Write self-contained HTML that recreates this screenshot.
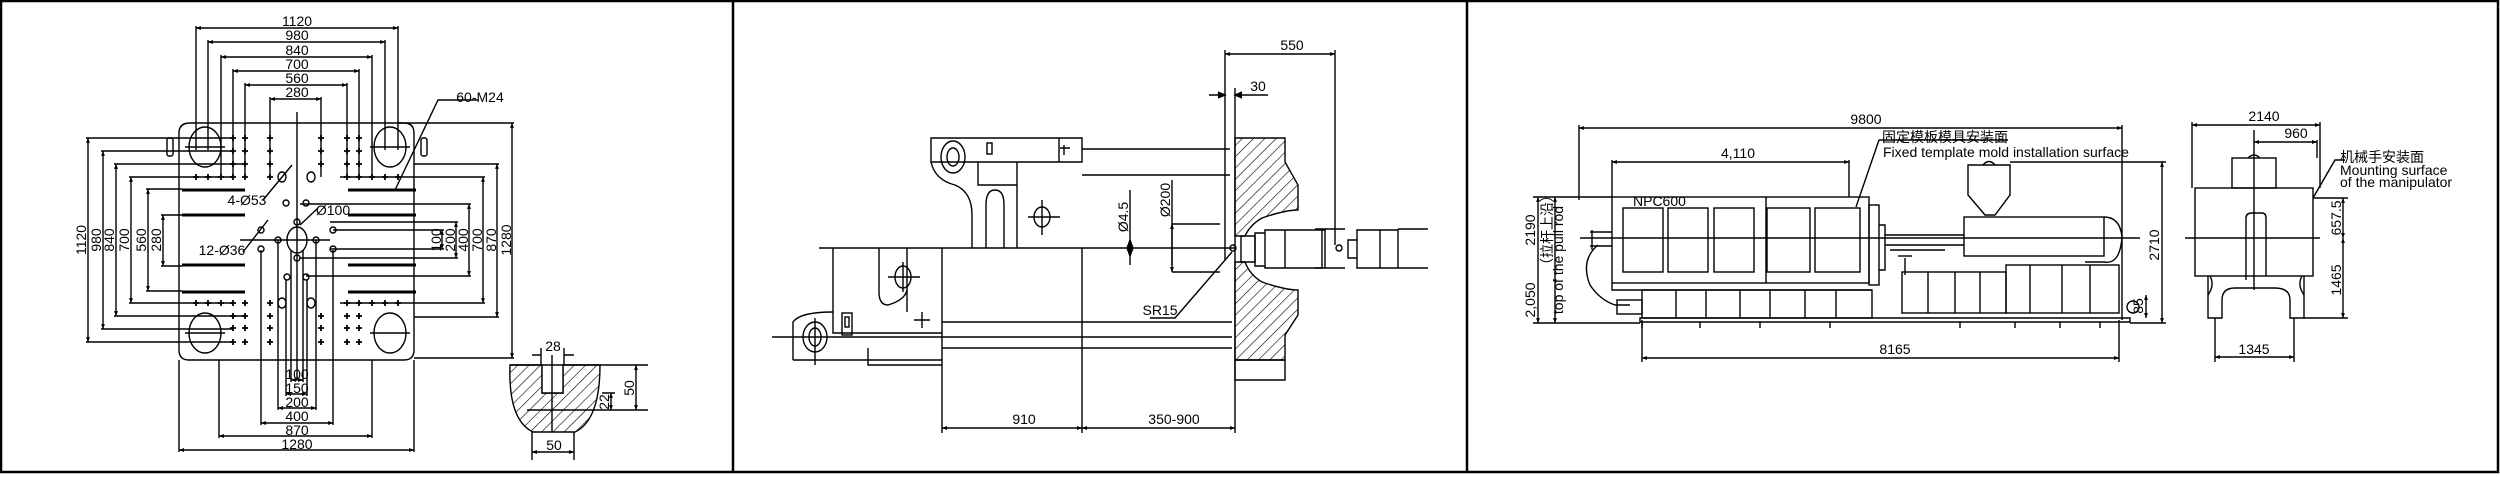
<!DOCTYPE html>
<html><head><meta charset="utf-8"><style>
html,body{margin:0;padding:0;background:#fff;}
svg{display:block;}
text{font-family:"Liberation Sans","Noto Sans CJK SC",sans-serif;font-size:14px;fill:#000;}
</style></head><body>
<svg width="2500" height="477" viewBox="0 0 2500 477" xmlns="http://www.w3.org/2000/svg">
<defs>
<marker id="a" viewBox="0 0 10 10" refX="10" refY="5" markerWidth="5" markerHeight="3.5" orient="auto-start-reverse"><path d="M0,1 L10,5 L0,9z" fill="#000"/></marker>
<g id="p"><path d="M-3,0H3M0,-3V3" stroke="#000" stroke-width="1.8"/></g>
<pattern id="h" width="8" height="8" patternUnits="userSpaceOnUse" patternTransform="rotate(45)"><line x1="0" y1="0" x2="0" y2="8" stroke="#000" stroke-width="1.2"/></pattern>
</defs>
<rect x="0" y="0" width="2500" height="477" fill="#fff"/>
<rect x="1" y="1" width="2497" height="471" fill="none" stroke="#000" stroke-width="2.5"/>
<line x1="733" y1="0" x2="733" y2="472" stroke="#000" stroke-width="2.5"/>
<line x1="1467" y1="0" x2="1467" y2="472" stroke="#000" stroke-width="2.5"/>

<!-- PANEL 1 -->
<g stroke="#000" fill="none" stroke-width="1.4">
<path d="M190,123H404Q414,123 414,133V350Q414,360 404,360H189Q179,360 179,350V133Q179,123 190,123Z"/>
<ellipse cx="205" cy="147" rx="16" ry="20"/><ellipse cx="390" cy="147" rx="16" ry="20"/>
<ellipse cx="205" cy="333" rx="16" ry="20"/><ellipse cx="390" cy="333" rx="16" ry="20"/>
<rect x="167" y="138" width="6" height="18" rx="2"/><rect x="421" y="138" width="6" height="18" rx="2"/>
<ellipse cx="297" cy="240" rx="10" ry="13"/>
<g stroke-width="3">
<path d="M182,190H245M182,215H245M182,265H245M182,292H245M348,190H416M348,215H416M348,265H416M348,292H416"/>
</g>
<g>
<circle cx="286" cy="203" r="3"/><circle cx="306" cy="203" r="3"/><circle cx="297" cy="222" r="3"/>
<circle cx="278" cy="240" r="3"/><circle cx="316" cy="240" r="3"/><circle cx="261" cy="230" r="3"/>
<circle cx="333" cy="230" r="3"/><circle cx="261" cy="249" r="3"/><circle cx="333" cy="249" r="3"/>
<circle cx="297" cy="258" r="3"/><circle cx="287" cy="277" r="3"/><circle cx="306" cy="277" r="3"/>
<ellipse cx="282" cy="177" rx="4" ry="5"/><ellipse cx="311" cy="177" rx="4" ry="5"/>
<ellipse cx="282" cy="303" rx="4" ry="5"/><ellipse cx="311" cy="303" rx="4" ry="5"/>
</g>
<path d="M297,112V380M185,147H225M370,147H410M185,333H225M370,333H410M240,240H330"/>
<g marker-start="url(#a)" marker-end="url(#a)">
<line x1="196" y1="28" x2="398" y2="28"/><line x1="208" y1="42" x2="385" y2="42"/>
<line x1="221" y1="57" x2="372" y2="57"/><line x1="233" y1="71" x2="359" y2="71"/>
<line x1="245" y1="85" x2="347" y2="85"/><line x1="270" y1="99" x2="321" y2="99"/>
<line x1="88" y1="138" x2="88" y2="342"/><line x1="103" y1="151" x2="103" y2="329"/>
<line x1="116" y1="164" x2="116" y2="316"/><line x1="131" y1="177" x2="131" y2="303"/>
<line x1="148" y1="189" x2="148" y2="291"/><line x1="163" y1="215" x2="163" y2="266"/>
<line x1="512" y1="123" x2="512" y2="358"/><line x1="497" y1="164" x2="497" y2="317"/>
<line x1="483" y1="177" x2="483" y2="303"/><line x1="469" y1="204" x2="469" y2="276"/>
<line x1="456" y1="222" x2="456" y2="258"/><line x1="442" y1="230" x2="442" y2="249"/>
<line x1="179" y1="450" x2="414" y2="450"/><line x1="219" y1="436" x2="372" y2="436"/>
<line x1="261" y1="423" x2="333" y2="423"/><line x1="278" y1="408" x2="316" y2="408"/>
<line x1="286" y1="394" x2="307" y2="394"/><line x1="291" y1="380" x2="303" y2="380"/>
</g>
<path d="M196,26V150M398,26V150M208,40V150M385,40V150M221,55V177M372,55V177M233,69V177M359,69V177M245,83V177M347,83V177M270,97V177M321,97V177"/>
<path d="M86,138H233M101,151H233M114,164H245M129,177H233M146,189H182M161,215H182M86,342H233M101,329H233M114,316H245M129,303H233M146,291H182M161,266H182"/>
<path d="M398,123H514M414,164H499M340,177H485M300,204H471M330,222H458M333,230H444M330,249H444M300,258H458M306,276H471M340,303H485M414,317H499M414,358H514"/>
<path d="M179,360V452M414,360V452M219,360V438M372,360V438M261,250V425M333,250V425M278,240V410M316,240V410M286,280V396M307,280V396M291,250V382M303,250V382"/>
<path d="M395,190L438,100H478M263,200L292,165M300,225L318,208M243,252L268,220"/>
<path d="M510,365H542V393H563V365H600Q600,420 575,432H533Q508,420 510,365Z" fill="url(#h)"/>
<path d="M542,365V393H563V365" fill="#fff"/>
<path d="M541,348V365M564,348V365M510,365H648M527,410H648M602,393H615M552,355V432" />
<g marker-start="url(#a)" marker-end="url(#a)">
<line x1="636" y1="365" x2="636" y2="410"/><line x1="611" y1="393" x2="611" y2="410"/>
<line x1="532" y1="452" x2="574" y2="452"/>
</g>
<path d="M532,432V460M574,432V460M532,355H541M564,355H574"/>
</g>
<g text-anchor="middle">
<text x="297" y="26">1120</text><text x="297" y="40">980</text>
<text x="297" y="55">840</text><text x="297" y="69">700</text>
<text x="297" y="83">560</text><text x="297" y="97">280</text>
<text x="480" y="102">60-M24</text>
<text x="247" y="205">4-Ø53</text><text x="333" y="215">Ø100</text>
<text x="222" y="255">12-Ø36</text>
<text transform="translate(86,240) rotate(-90)">1120</text><text transform="translate(101,240) rotate(-90)">980</text>
<text transform="translate(114,240) rotate(-90)">840</text><text transform="translate(129,240) rotate(-90)">700</text>
<text transform="translate(146,240) rotate(-90)">560</text><text transform="translate(161,240) rotate(-90)">280</text>
<text transform="translate(441,240) rotate(-90)">100</text><text transform="translate(455,240) rotate(-90)">200</text>
<text transform="translate(468,240) rotate(-90)">400</text><text transform="translate(482,240) rotate(-90)">700</text>
<text transform="translate(496,240) rotate(-90)">870</text><text transform="translate(511,240) rotate(-90)">1280</text>
<text x="297" y="379">100</text><text x="297" y="393">150</text><text x="297" y="407">200</text>
<text x="297" y="421">400</text><text x="297" y="435">870</text><text x="297" y="449">1280</text>
<text x="553" y="351">28</text><text x="554" y="450">50</text>
<text transform="translate(634,388) rotate(-90)">50</text><text transform="translate(609,402) rotate(-90)">22</text>
</g>
<g>
<use href="#p" x="196" y="177"/><use href="#p" x="208" y="177"/><use href="#p" x="221" y="177"/>
<use href="#p" x="372" y="177"/><use href="#p" x="385" y="177"/><use href="#p" x="398" y="177"/>
<use href="#p" x="196" y="303"/><use href="#p" x="208" y="303"/><use href="#p" x="221" y="303"/>
<use href="#p" x="372" y="303"/><use href="#p" x="385" y="303"/><use href="#p" x="398" y="303"/>
<use href="#p" x="233" y="138"/><use href="#p" x="245" y="138"/><use href="#p" x="270" y="138"/><use href="#p" x="321" y="138"/><use href="#p" x="347" y="138"/><use href="#p" x="359" y="138"/>
<use href="#p" x="233" y="151"/><use href="#p" x="245" y="151"/><use href="#p" x="270" y="151"/><use href="#p" x="321" y="151"/><use href="#p" x="347" y="151"/><use href="#p" x="359" y="151"/>
<use href="#p" x="233" y="164"/><use href="#p" x="245" y="164"/><use href="#p" x="270" y="164"/><use href="#p" x="321" y="164"/><use href="#p" x="347" y="164"/><use href="#p" x="359" y="164"/>
<use href="#p" x="233" y="177"/><use href="#p" x="245" y="177"/><use href="#p" x="270" y="177"/><use href="#p" x="347" y="177"/><use href="#p" x="359" y="177"/>
<use href="#p" x="233" y="303"/><use href="#p" x="245" y="303"/><use href="#p" x="270" y="303"/><use href="#p" x="347" y="303"/><use href="#p" x="359" y="303"/>
<use href="#p" x="233" y="316"/><use href="#p" x="245" y="316"/><use href="#p" x="270" y="316"/><use href="#p" x="321" y="316"/><use href="#p" x="347" y="316"/><use href="#p" x="359" y="316"/>
<use href="#p" x="233" y="328"/><use href="#p" x="245" y="328"/><use href="#p" x="270" y="328"/><use href="#p" x="321" y="328"/><use href="#p" x="347" y="328"/><use href="#p" x="359" y="328"/>
<use href="#p" x="233" y="342"/><use href="#p" x="245" y="342"/><use href="#p" x="270" y="342"/><use href="#p" x="321" y="342"/><use href="#p" x="347" y="342"/><use href="#p" x="359" y="342"/>
</g>

<!-- PANEL 2 -->
<g stroke="#000" fill="none" stroke-width="1.4">
<path d="M931,138H1082V162H931Z"/>
<path d="M978,162V185H1017V248M1017,162V248M1059,138V162"/>
<ellipse cx="953" cy="157" rx="12" ry="16"/><ellipse cx="953" cy="157" rx="6" ry="9"/>
<path d="M931,162Q935,180 955,185Q972,192 972,215V248M986,248V205Q986,190 995,190Q1004,190 1004,205V248"/>
<rect x="987" y="143" width="5" height="11"/><path d="M1064,145V155M1060,148H1070"/>
<ellipse cx="1042" cy="217" rx="8" ry="10"/><path d="M1028,217H1060M1042,200V235"/>
<path d="M819,248H1235"/>
<path d="M1082,149H1230M1082,175H1230"/>
<path d="M833,248V333H942M879,248V292Q879,305 888,305Q905,300 907,290V248M907,248V312M942,248V433M1082,248V433"/>
<ellipse cx="903" cy="277" rx="8" ry="11"/><path d="M888,277H920M903,262V292"/>
<path d="M914,320H930M922,312V328"/>
<rect x="842" y="313" width="10" height="22"/><rect x="845" y="317" width="4" height="10"/>
<ellipse cx="815" cy="337" rx="12" ry="15"/><ellipse cx="815" cy="337" rx="6" ry="9"/>
<path d="M772,337H942M815,318V365M793,360V322Q800,312 833,312"/>
<path d="M793,360H942M868,348V365H942"/>
<path d="M942,322H1232M942,337H1232M942,348H1232"/>
<path d="M1235,138H1285V162L1298,185V210Q1285,210 1262,218Q1250,225 1245,236H1235Z" fill="url(#h)"/>
<path d="M1235,262H1245Q1250,275 1262,282Q1285,290 1298,290V315L1285,335V360H1235Z" fill="url(#h)"/>
<path d="M1235,360H1285V380H1235Z"/>
<path d="M1235,88V433M1225,50V260M1335,50V245"/>
<path d="M1241,236H1255V262H1241Z"/>
<path d="M1255,233H1265V266H1255ZM1265,230H1285V268H1265ZM1285,230H1322V268H1285Z"/>
<path d="M1322,230H1325V268H1322M1315,229H1345M1315,268H1345"/>
<path d="M1348,240H1357V258H1348ZM1357,230H1380V268H1357ZM1380,230H1398V268H1380ZM1398,229H1428M1398,268H1428"/>
<circle cx="1233" cy="248" r="3"/><circle cx="1339" cy="248" r="3"/>
<path d="M1130,190V265M1172,180V265M1172,224H1220M1172,272H1220"/>
<g marker-start="url(#a)" marker-end="url(#a)">
<line x1="1225" y1="54" x2="1335" y2="54"/>
<line x1="1172" y1="224" x2="1172" y2="272"/>
<line x1="942" y1="428" x2="1082" y2="428"/><line x1="1082" y1="428" x2="1235" y2="428"/>
</g>
<path d="M1209,95H1225M1235,95H1268" />
<path d="M1218,92L1225,95L1218,98M1242,92L1235,95L1242,98" fill="#000"/>
<path d="M1130,240L1127,248L1133,248ZM1130,256L1127,248L1133,248Z" fill="#000"/>
<path d="M1150,318L1175,318L1232,252"/>
</g>
<g text-anchor="middle">
<text x="1292" y="50">550</text>
<text x="1258" y="91">30</text>
<text x="1024" y="424">910</text>
<text x="1174" y="424">350-900</text>
<text x="1160" y="315">SR15</text>
<text transform="translate(1128,217) rotate(-90)">Ø4.5</text>
<text transform="translate(1170,200) rotate(-90)">Ø200</text>
</g>

<!-- PANEL 3 -->
<g stroke="#000" fill="none" stroke-width="1.4">
<rect x="1612" y="197" width="257" height="86"/>
<rect x="1623" y="208" width="40" height="64"/><rect x="1668" y="208" width="40" height="64"/>
<rect x="1714" y="208" width="40" height="64"/><rect x="1767" y="208" width="43" height="64"/>
<rect x="1815" y="208" width="45" height="64"/>
<path d="M1766,197V283"/>
<rect x="1642" y="290" width="230" height="28"/>
<path d="M1676,290V318M1706,290V318M1740,290V318M1770,290V318M1805,290V318M1836,290V318M1612,283V290H1872"/>
<rect x="1869" y="205" width="10" height="80"/>
<path d="M1879,225H1885V270H1879"/>
<path d="M1590,232H1612M1590,246H1612M1592,230V250"/>
<path d="M1598,245Q1580,260 1590,285Q1600,300 1615,305H1630"/>
<rect x="1617" y="300" width="25" height="14"/>
<path d="M1885,235H1964M1885,245H1964M1890,250H1945M1905,258V275"/>
<path d="M1898,256H1912"/>
<rect x="1964" y="217" width="140" height="39"/>
<path d="M2104,217Q2120,217 2122,237Q2120,265 2104,262H2085"/>
<path d="M1968,165H2010V195L1995,215H1985L1968,195Z"/>
<path d="M1983,165Q1989,158 1995,165"/>
<rect x="1902" y="272" width="104" height="41"/>
<rect x="2006" y="265" width="113" height="48"/>
<path d="M1928,272V313M1955,272V313M1980,272V313M2030,265V313M2062,265V313M2090,265V313"/>
<path d="M1640,318H2130V322H1640Z"/>
<path d="M1642,322V328M1700,322V328M1760,322V328M1830,322V328M1960,322V328M2015,322V328M2060,322V328M2100,322V328"/>
<circle cx="2133" cy="307" r="6"/>
<path d="M1580,238H2140"/>
<g marker-start="url(#a)" marker-end="url(#a)">
<line x1="1579" y1="128" x2="2122" y2="128"/>
<line x1="1612" y1="162" x2="1849" y2="162"/>
<line x1="1642" y1="358" x2="2119" y2="358"/>
<line x1="2162" y1="162" x2="2162" y2="323"/>
<line x1="1538" y1="197" x2="1538" y2="323"/>
<line x1="1555" y1="197" x2="1555" y2="323"/>
<line x1="2192" y1="125" x2="2320" y2="125"/>
<line x1="2254" y1="142" x2="2317" y2="142"/>
<line x1="2343" y1="198" x2="2343" y2="238"/>
<line x1="2343" y1="238" x2="2343" y2="318"/>
<line x1="2215" y1="357" x2="2294" y2="357"/>
<line x1="2146" y1="295" x2="2146" y2="318"/>
</g>
<path d="M1579,125V200M2122,125V320M1612,160V197M1849,160V197M1642,320V362M2119,320V362M2010,162H2166M1533,323H1640M1533,197H1612M2130,323H2166"/>
<path d="M1879,140L1856,207"/>
<path d="M1879,140H2008"/>
<rect x="2195" y="188" width="118" height="88"/>
<rect x="2232" y="158" width="44" height="30"/>
<path d="M2248,158Q2254,152 2260,158"/>
<path d="M2254,130V290M2192,122V188M2320,122V188M2317,140V158"/>
<path d="M2246,280V218Q2246,213 2252,213H2262Q2266,213 2266,218V276"/>
<path d="M2208,276V318H2222V300Q2222,288 2235,288H2275Q2290,288 2290,300V318H2304V276"/>
<path d="M2210,276Q2215,285 2208,295M2302,276Q2297,285 2304,295"/>
<path d="M2185,238H2320M2313,198H2348M2304,318H2348M2215,318V362M2294,318V362"/>
<path d="M2313,198L2335,160H2345"/>
</g>
<text x="1866" y="124" text-anchor="middle">9800</text>
<text x="1738" y="158" text-anchor="middle">4,110</text>
<text x="1882" y="142" font-size="13">固定模板模具安装面</text>
<text x="1883" y="157" font-size="12">Fixed template mold installation surface</text>
<text x="1633" y="206" font-size="13">NPC600</text>
<text x="1895" y="354" text-anchor="middle">8165</text>
<text x="2264" y="121" text-anchor="middle">2140</text>
<text x="2296" y="138" text-anchor="middle">960</text>
<text x="2340" y="162" font-size="13">机械手安装面</text>
<text x="2340" y="175" font-size="12">Mounting surface</text>
<text x="2340" y="187" font-size="12">of the manipulator</text>
<g text-anchor="middle">
<text transform="translate(2159,245) rotate(-90)">2710</text>
<text transform="translate(1535,230) rotate(-90)">2190</text>
<text transform="translate(1535,300) rotate(-90)">2,050</text>
<text transform="translate(1552,230) rotate(-90)" font-size="12">（拉杆上沿）</text>
<text transform="translate(1563,260) rotate(-90)" font-size="12">top of the pull rod</text>
<text transform="translate(2341,218) rotate(-90)">657.5</text>
<text transform="translate(2341,280) rotate(-90)">1465</text>
<text transform="translate(2143,306) rotate(-90)">85</text>
<text x="2254" y="354">1345</text>
</g>
</svg>
</body></html>
